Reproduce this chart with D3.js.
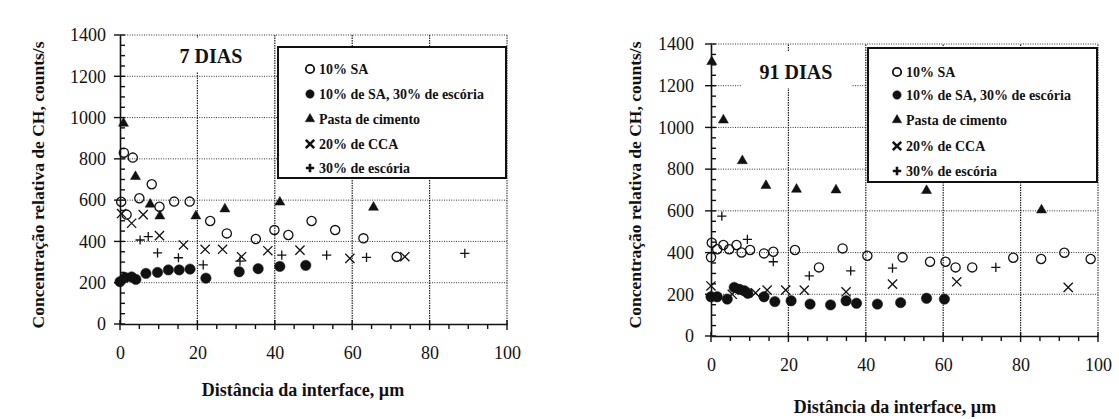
<!DOCTYPE html>
<html>
<head>
<meta charset="utf-8">
<script src="https://cdn.jsdelivr.net/npm/d3@7"></script>
<style>
  body { margin:0; background:#fff; }
  text { font-family:"Liberation Serif","Times New Roman",serif; fill:#111; }
</style>
</head>
<body>
<div class="chart"></div>
<script>
// tick values
const xTickVals = [0, 20, 40, 60, 80, 100];
const yTickVals = [0, 200, 400, 600, 800, 1000, 1200, 1400];

// series labels (legend order)
const seriesNames = ['10% SA', '10% de SA, 30% de escória', 'Pasta de cimento', '20% de CCA', '30% de escória'];
const seriesSymbols = ['circleOpen', 'circleFilled', 'triangle', 'x', 'plus'];

// 7 dias  [distance um, counts/s]
const sa7 = [[0.3,592],[1,830],[3.3,806],[1.7,530],[5,609],[8.2,677],[10.2,568],[14,593],[18,593],[23.3,499],[27.6,439],[35.1,412],[39.9,455],[43.5,431],[49.5,499],[55.6,455],[62.9,415],[71.5,326]];
const saEsc7 = [[0,205],[1.3,225],[3,228],[4.1,216],[6.7,245],[9.7,250],[12.5,262],[15.3,262],[18.1,266],[22.2,222],[30.8,253],[35.7,268],[41.3,279],[48,284]];
const pasta7 = [[0.9,972],[4,714],[7.8,580],[10.3,523],[19.6,523],[27.1,557],[41.3,590],[65.5,565]];
const cca7 = [[0.4,535],[3,488],[6,530],[10.2,428],[16.4,383],[22,362],[26.5,362],[31.4,326],[38.2,355],[46.5,358],[59.4,318],[73.6,326]];
const esc7 = [[5.2,407],[7.3,423],[9.7,345],[15.1,321],[21.5,286],[31,305],[41.8,334],[53.4,334],[63.7,323],[89.1,342]];

// 91 dias
const sa91 = [[0,377],[0.2,447],[1.6,416],[3.2,436],[4.7,416],[6.6,436],[7.9,400],[10.1,412],[13.7,396],[16.1,404],[21.7,412],[27.9,329],[34,420],[40.4,385],[49.5,377],[56.6,356],[60.6,356],[63.2,329],[67.5,329],[78.1,375],[85.3,369],[91.3,399],[98.1,369]];
const saEsc91 = [[0,188],[1.6,188],[4.2,177],[6,233],[7.3,224],[8.6,217],[9.5,205],[13.7,188],[16.5,165],[20.7,169],[25.6,153],[30.9,149],[34.9,169],[37.6,157],[43,153],[49,160],[55.7,181],[60.3,177]];
const pasta91 = [[0.2,1315],[3.2,1035],[8.1,840],[14.2,721],[22.1,703],[32.3,700],[55.7,697],[85.4,604]];
const cca91 = [[0,240],[5.5,200],[11.5,207],[14.5,220],[19.3,220],[24.1,220],[34.9,212],[46.9,249],[63.5,260],[92.3,233]];
const esc91 = [[2.8,575],[9.4,463],[16.1,356],[25.4,288],[36.1,312],[46.9,325],[73.6,329]];

const svg = d3.select('.chart').append('svg')
    .attr('width', 1119)
    .attr('height', 419);

function markerPath(type, s) {
    if (type == 'circleOpen' || type == 'circleFilled')
        return d3.symbol(d3.symbolCircle, Math.PI * s * s)();
    if (type == 'triangle')
        return d3.symbol(d3.symbolTriangle, s * s)();
    if (type == 'x')
        return `M${-s},${-s}L${s},${s}M${-s},${s}L${s},${-s}`;
    return `M${-s},0H${s}M0,${-s}V${s}`;
}
function styleMarker(sel, type, bold) {
    const filled = type == 'circleFilled' || type == 'triangle';
    sel.attr('fill', filled ? '#111' : 'none')
       .attr('stroke', '#111')
       .attr('stroke-width', type == 'circleOpen' ? 1.3 : filled ? 0.5 : (bold ? 2.6 : 1.3));
}
// circles: radius, triangle: sqrt(area), x/plus: half-width
const markerSize = {circleOpen:4.6, circleFilled:5.2, triangle:6.6, x:4.6, plus:4.6};

function drawPanel(cfg) {
    const x = d3.scaleLinear().domain([0, 100]).range(cfg.xr);
    const y = d3.scaleLinear().domain([0, 1400]).range(cfg.yr);
    const g = svg.append('g');

    // dotted grid
    g.selectAll('.hgrid').data(yTickVals.filter(d => d > 0)).enter()
        .append('line')
        .attr('x1', x(0)).attr('x2', x(100))
        .attr('y1', d => y(d)).attr('y2', d => y(d))
        .attr('stroke', '#333').attr('stroke-width', 1)
        .attr('stroke-dasharray', '1,1.4');
    g.selectAll('.vgrid').data(xTickVals.filter(d => d > 0)).enter()
        .append('line')
        .attr('x1', d => x(d)).attr('x2', d => x(d))
        .attr('y1', y(0)).attr('y2', y(1400))
        .attr('stroke', '#222').attr('stroke-width', d => d == 100 ? 1 : 1.2)
        .attr('stroke-dasharray', '1.5,1');

    // title box (hides grid)
    g.append('rect')
        .attr('x', cfg.title.x).attr('y', cfg.title.y)
        .attr('width', cfg.title.w).attr('height', cfg.title.h)
        .attr('fill', '#fff');
    g.append('text')
        .attr('x', cfg.title.x + cfg.title.w / 2)
        .attr('y', cfg.title.y + cfg.title.h - 9)
        .attr('text-anchor', 'middle')
        .attr('font-size', '20px').attr('font-weight', 'bold')
        .text(cfg.titleText);

    // legend
    const lg = cfg.legend;
    g.append('rect')
        .attr('x', lg.x).attr('y', lg.y).attr('width', lg.w).attr('height', lg.h)
        .attr('fill', '#fff').attr('stroke', '#111').attr('stroke-width', 2);
    seriesNames.forEach((name, i) => {
        const cy = lg.rows[i];
        const t = seriesSymbols[i];
        g.append('path')
            .attr('d', markerPath(t, t == 'triangle' ? 6.2 : 4.2))
            .attr('transform', `translate(${lg.x + lg.mx},${cy})`)
            .call(styleMarker, t, true)
            .attr('stroke-width', t == 'circleOpen' ? 1.8 : t == 'x' || t == 'plus' ? 2.6 : 0.5);
        g.append('text')
            .attr('x', lg.x + lg.mx + 9).attr('y', cy + 5)
            .attr('font-size', '14px').attr('font-weight', 'bold')
            .text(name);
    });

    // axes
    const xAxis = d3.axisBottom(x).tickValues(xTickVals).tickSize(0).tickPadding(cfg.xPad)
        .tickFormat(d3.format('d'));
    const ax = g.append('g')
        .attr('transform', `translate(0,${y(0)})`)
        .call(xAxis);
    ax.select('.domain').attr('stroke', '#111').attr('stroke-width', 1.6);
    ax.selectAll('text').attr('font-size', '18px').attr('fill', '#111')
        .attr('font-family', '"Liberation Serif",serif');

    const yAxis = d3.axisLeft(y).tickValues(yTickVals).tickSize(0).tickPadding(cfg.yPad)
        .tickFormat(d3.format('d'));
    const ay = g.append('g')
        .attr('transform', `translate(${x(0)},0)`)
        .call(yAxis);
    ay.select('.domain').attr('stroke', '#111').attr('stroke-width', 1.6);
    ay.selectAll('text').attr('font-size', '18px').attr('fill', '#111')
        .attr('font-family', '"Liberation Serif",serif');

    // tick marks: majors cross the axis, minors every 5 um / 50 counts
    const xMinor = d3.range(0, 101, 5);
    g.selectAll('.xt').data(xMinor).enter().append('line')
        .attr('x1', d => x(d)).attr('x2', d => x(d))
        .attr('y1', d => y(0) + (d % 20 == 0 ? 6 : 5))
        .attr('y2', d => y(0) - (d % 20 == 0 ? 4 : 0))
        .attr('stroke', '#111').attr('stroke-width', 1.4);
    const yMinor = d3.range(0, 1401, 50);
    g.selectAll('.yt').data(yMinor).enter().append('line')
        .attr('y1', d => y(d)).attr('y2', d => y(d))
        .attr('x1', d => x(0) - (d % 200 == 0 ? 6 : 0))
        .attr('x2', d => x(0) + 5)
        .attr('stroke', '#111').attr('stroke-width', 1.4);

    // axis titles
    g.append('text')
        .attr('x', cfg.xLabel[0]).attr('y', cfg.xLabel[1])
        .attr('text-anchor', 'middle')
        .attr('font-size', '18px').attr('font-weight', 'bold')
        .text('Distância da interface, µm');
    g.append('text')
        .attr('transform', `translate(${cfg.yLabel[0]},${cfg.yLabel[1]}) rotate(-90)`)
        .attr('text-anchor', 'middle')
        .attr('font-size', '17.5px').attr('font-weight', 'bold')
        .text('Concentração relativa de CH, counts/s');

    // data points
    cfg.series.forEach((data, i) => {
        const t = seriesSymbols[i];
        g.selectAll('.s' + i).data(data).enter()
            .append('path')
            .attr('d', markerPath(t, markerSize[t]))
            .attr('transform', d => `translate(${x(d[0])},${y(d[1])})`)
            .call(styleMarker, t, false);
    });
}

drawPanel({
    xr: [120, 507], yr: [324, 35],
    titleText: '7 DIAS',
    title: {x: 160, y: 38, w: 102, h: 34},
    legend: {x: 278, y: 47, w: 228, h: 131, mx: 32, rows: [69, 94, 119, 144, 168]},
    xPad: 22, yPad: 14,
    xLabel: [303, 396], yLabel: [44, 185],
    series: [sa7, saEsc7, pasta7, cca7, esc7]
});

drawPanel({
    xr: [711, 1098], yr: [336, 44],
    titleText: '91 DIAS',
    title: {x: 741, y: 52, w: 110, h: 36},
    legend: {x: 868, y: 48, w: 229, h: 134, mx: 29, rows: [72, 95, 120, 146, 171]},
    xPad: 22, yPad: 17,
    xLabel: [895, 413], yLabel: [641, 185],
    series: [sa91, saEsc91, pasta91, cca91, esc91]
});
</script>
</body>
</html>
